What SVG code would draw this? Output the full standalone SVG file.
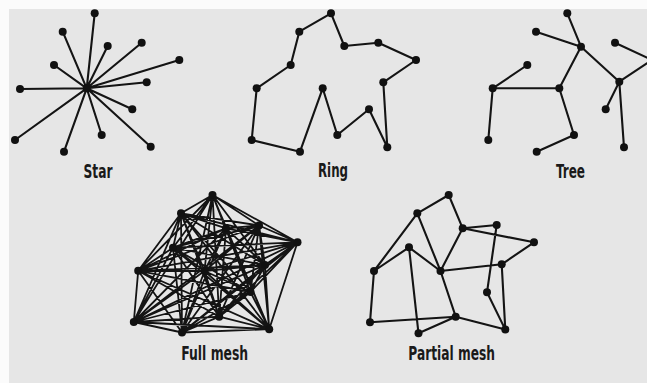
<svg xmlns="http://www.w3.org/2000/svg" width="647" height="383" viewBox="0 0 647 383">
<style>
.e{fill:none;stroke:#141414;stroke-width:2.1;stroke-linecap:round;stroke-linejoin:round}
.fm{fill:none;stroke:#141414;stroke-width:1.8;stroke-linecap:round}
.n{fill:#111}
.t{font-family:"DejaVu Sans Condensed","Liberation Sans",sans-serif;font-weight:bold;font-size:20px;fill:#1a1a1a;text-anchor:middle}
</style>
<rect width="647" height="383" fill="#fbfbfb"/>
<rect x="9" y="9" width="638" height="374" fill="#e6e6e6"/>
<g id="connectors">
<path class="e" d="M86.7 88.3L94.7 13.3M86.7 88.3L62.7 31.7M86.7 88.3L107.7 46M86.7 88.3L141.7 42.7M86.7 88.3L179.3 60M86.7 88.3L54 65M86.7 88.3L146.7 82.3M86.7 88.3L20 89M86.7 88.3L132.3 109.3M86.7 88.3L15 140M86.7 88.3L101.7 135M86.7 88.3L150.7 146.7M86.7 88.3L64 151.7"/>
<path class="e" d="M331 13.3L299.3 31.7L290.7 65L256.7 88.3L251.7 140L300 151.7L322.7 88.3L337.3 135L369 109.3L387.3 147.3L383.3 82.3L416 60L378.3 42.7L344.3 46Z"/>
<path class="e" d="M567.3 13.3L581 46.7M536 31.7L581 46.7L619.3 81.7M581 46.7L559.3 88.3L492.7 88.3L527.3 65M492.7 88.3L488.3 140M559.3 88.3L574 135L536.7 151.7M615 42.7L652 60L619.3 81.7L605.7 109.3M619.3 81.7L624 147.3"/>
<path class="fm" d="M212.5 195L181 213.3M212.5 195L226 228.3M212.5 195L259 225.5M212.5 195L297.5 242.3M212.5 195L173 247.7M212.5 195L138.2 270.8M212.5 195L204.5 271M212.5 195L265 265M212.5 195L250.5 292M212.5 195L219.2 316.7M212.5 195L133.8 322M212.5 195L182 332.5M212.5 195L269.2 329.2
M181 213.3L226 228.3M181 213.3L259 225.5M181 213.3L297.5 242.3M181 213.3L173 247.7M181 213.3L138.2 270.8M181 213.3L204.5 271M181 213.3L265 265M181 213.3L250.5 292M181 213.3L219.2 316.7M181 213.3L133.8 322M181 213.3L182 332.5M181 213.3L269.2 329.2
M226 228.3L259 225.5M226 228.3L297.5 242.3M226 228.3L173 247.7M226 228.3L138.2 270.8M226 228.3L204.5 271M226 228.3L265 265M226 228.3L250.5 292M226 228.3L219.2 316.7M226 228.3L133.8 322M226 228.3L182 332.5M226 228.3L269.2 329.2
M259 225.5L297.5 242.3M259 225.5L173 247.7M259 225.5L138.2 270.8M259 225.5L204.5 271M259 225.5L265 265M259 225.5L250.5 292M259 225.5L219.2 316.7M259 225.5L133.8 322M259 225.5L182 332.5M259 225.5L269.2 329.2
M297.5 242.3L173 247.7M297.5 242.3L138.2 270.8M297.5 242.3L204.5 271M297.5 242.3L265 265M297.5 242.3L250.5 292M297.5 242.3L219.2 316.7M297.5 242.3L133.8 322M297.5 242.3L182 332.5M297.5 242.3L269.2 329.2
M173 247.7L138.2 270.8M173 247.7L204.5 271M173 247.7L265 265M173 247.7L250.5 292M173 247.7L219.2 316.7M173 247.7L133.8 322M173 247.7L182 332.5M173 247.7L269.2 329.2
M138.2 270.8L204.5 271M138.2 270.8L265 265M138.2 270.8L250.5 292M138.2 270.8L219.2 316.7M138.2 270.8L133.8 322M138.2 270.8L182 332.5M138.2 270.8L269.2 329.2
M204.5 271L265 265M204.5 271L250.5 292M204.5 271L219.2 316.7M204.5 271L133.8 322M204.5 271L182 332.5M204.5 271L269.2 329.2
M265 265L250.5 292M265 265L219.2 316.7M265 265L133.8 322M265 265L182 332.5M265 265L269.2 329.2
M250.5 292L219.2 316.7M250.5 292L133.8 322M250.5 292L182 332.5M250.5 292L269.2 329.2
M219.2 316.7L133.8 322M219.2 316.7L182 332.5M219.2 316.7L269.2 329.2
M133.8 322L182 332.5M133.8 322L269.2 329.2M182 332.5L269.2 329.2"/>
<path class="e" d="M417.3 213.3L448.7 195L462.7 228.3L496.7 225L487 292.3L505.3 329.6L501.7 264.3L534 242.3L462.7 228.3L440.5 271L501.7 264.3M417.3 213.3L440.5 271L455.7 316.7L505.3 329.6M417.3 213.3L374 271L409 247.3L440.5 271M409 247.3L418.5 333.3L455.7 316.7L370 322.3L374 271"/>
</g>
<g id="star">
<g id="star-hub"><circle class="n" cx="86.7" cy="88.3" r="4"/></g>
<g id="star-1"><circle class="n" cx="94.7" cy="13.3" r="4"/></g>
<g id="star-2"><circle class="n" cx="62.7" cy="31.7" r="4"/></g>
<g id="star-3"><circle class="n" cx="107.7" cy="46" r="4"/></g>
<g id="star-4"><circle class="n" cx="141.7" cy="42.7" r="4"/></g>
<g id="star-5"><circle class="n" cx="179.3" cy="60" r="4"/></g>
<g id="star-6"><circle class="n" cx="54" cy="65" r="4"/></g>
<g id="star-7"><circle class="n" cx="146.7" cy="82.3" r="4"/></g>
<g id="star-8"><circle class="n" cx="20" cy="89" r="4"/></g>
<g id="star-9"><circle class="n" cx="132.3" cy="109.3" r="4"/></g>
<g id="star-10"><circle class="n" cx="15" cy="140" r="4"/></g>
<g id="star-11"><circle class="n" cx="101.7" cy="135" r="4"/></g>
<g id="star-12"><circle class="n" cx="150.7" cy="146.7" r="4"/></g>
<g id="star-13"><circle class="n" cx="64" cy="151.7" r="4"/></g>
<text class="t" x="98" y="178.3" textLength="29" lengthAdjust="spacingAndGlyphs">Star</text>
</g>
<g id="ring">
<g id="ring-1"><circle class="n" cx="331" cy="13.3" r="4"/></g>
<g id="ring-2"><circle class="n" cx="299.3" cy="31.7" r="4"/></g>
<g id="ring-3"><circle class="n" cx="290.7" cy="65" r="4"/></g>
<g id="ring-4"><circle class="n" cx="256.7" cy="88.3" r="4"/></g>
<g id="ring-5"><circle class="n" cx="251.7" cy="140" r="4"/></g>
<g id="ring-6"><circle class="n" cx="300" cy="151.7" r="4"/></g>
<g id="ring-7"><circle class="n" cx="322.7" cy="88.3" r="4"/></g>
<g id="ring-8"><circle class="n" cx="337.3" cy="135" r="4"/></g>
<g id="ring-9"><circle class="n" cx="369" cy="109.3" r="4"/></g>
<g id="ring-10"><circle class="n" cx="387.3" cy="147.3" r="4"/></g>
<g id="ring-11"><circle class="n" cx="383.3" cy="82.3" r="4"/></g>
<g id="ring-12"><circle class="n" cx="416" cy="60" r="4"/></g>
<g id="ring-13"><circle class="n" cx="378.3" cy="42.7" r="4"/></g>
<g id="ring-14"><circle class="n" cx="344.3" cy="46" r="4"/></g>
<text class="t" x="333" y="177" textLength="30" lengthAdjust="spacingAndGlyphs">Ring</text>
</g>
<g id="tree">
<g id="tree-1"><circle class="n" cx="567.3" cy="13.3" r="4"/></g>
<g id="tree-2"><circle class="n" cx="536" cy="31.7" r="4"/></g>
<g id="tree-3"><circle class="n" cx="581" cy="46.7" r="4"/></g>
<g id="tree-4"><circle class="n" cx="615" cy="42.7" r="4"/></g>
<g id="tree-6"><circle class="n" cx="619.3" cy="81.7" r="4"/></g>
<g id="tree-7"><circle class="n" cx="527.3" cy="65" r="4"/></g>
<g id="tree-8"><circle class="n" cx="492.7" cy="88.3" r="4"/></g>
<g id="tree-9"><circle class="n" cx="559.3" cy="88.3" r="4"/></g>
<g id="tree-10"><circle class="n" cx="488.3" cy="140" r="4"/></g>
<g id="tree-11"><circle class="n" cx="574" cy="135" r="4"/></g>
<g id="tree-12"><circle class="n" cx="536.7" cy="151.7" r="4"/></g>
<g id="tree-13"><circle class="n" cx="605.7" cy="109.3" r="4"/></g>
<g id="tree-14"><circle class="n" cx="624" cy="147.3" r="4"/></g>
<text class="t" x="570.5" y="178" textLength="29" lengthAdjust="spacingAndGlyphs">Tree</text>
</g>
<g id="fullmesh">
<g id="fm-1"><circle class="n" cx="212.5" cy="195" r="4"/></g>
<g id="fm-2"><circle class="n" cx="181" cy="213.3" r="4"/></g>
<g id="fm-3"><circle class="n" cx="226" cy="228.3" r="4"/></g>
<g id="fm-4"><circle class="n" cx="259" cy="225.5" r="4"/></g>
<g id="fm-5"><circle class="n" cx="297.5" cy="242.3" r="4"/></g>
<g id="fm-6"><circle class="n" cx="173" cy="247.7" r="4"/></g>
<g id="fm-7"><circle class="n" cx="138.2" cy="270.8" r="4"/></g>
<g id="fm-8"><circle class="n" cx="204.5" cy="271" r="4"/></g>
<g id="fm-9"><circle class="n" cx="265" cy="265" r="4"/></g>
<g id="fm-10"><circle class="n" cx="250.5" cy="292" r="4"/></g>
<g id="fm-11"><circle class="n" cx="219.2" cy="316.7" r="4"/></g>
<g id="fm-12"><circle class="n" cx="133.8" cy="322" r="4"/></g>
<g id="fm-13"><circle class="n" cx="182" cy="332.5" r="4"/></g>
<g id="fm-14"><circle class="n" cx="269.2" cy="329.2" r="4"/></g>
<text class="t" x="214.7" y="360" textLength="67" lengthAdjust="spacingAndGlyphs">Full mesh</text>
</g>
<g id="partialmesh">
<g id="pm-1"><circle class="n" cx="448.7" cy="195" r="4"/></g>
<g id="pm-2"><circle class="n" cx="417.3" cy="213.3" r="4"/></g>
<g id="pm-3"><circle class="n" cx="462.7" cy="228.3" r="4"/></g>
<g id="pm-4"><circle class="n" cx="496.7" cy="225" r="4"/></g>
<g id="pm-5"><circle class="n" cx="534" cy="242.3" r="4"/></g>
<g id="pm-6"><circle class="n" cx="409" cy="247.3" r="4"/></g>
<g id="pm-7"><circle class="n" cx="374" cy="271" r="4"/></g>
<g id="pm-8"><circle class="n" cx="440.5" cy="271" r="4"/></g>
<g id="pm-9"><circle class="n" cx="501.7" cy="264.3" r="4"/></g>
<g id="pm-10"><circle class="n" cx="487" cy="292.3" r="4"/></g>
<g id="pm-11"><circle class="n" cx="455.7" cy="316.7" r="4"/></g>
<g id="pm-12"><circle class="n" cx="370" cy="322.3" r="4"/></g>
<g id="pm-13"><circle class="n" cx="418.5" cy="333.3" r="4"/></g>
<g id="pm-14"><circle class="n" cx="505.3" cy="329.6" r="4"/></g>
<text class="t" x="451.7" y="360" textLength="86.7" lengthAdjust="spacingAndGlyphs">Partial mesh</text>
</g>
</svg>
